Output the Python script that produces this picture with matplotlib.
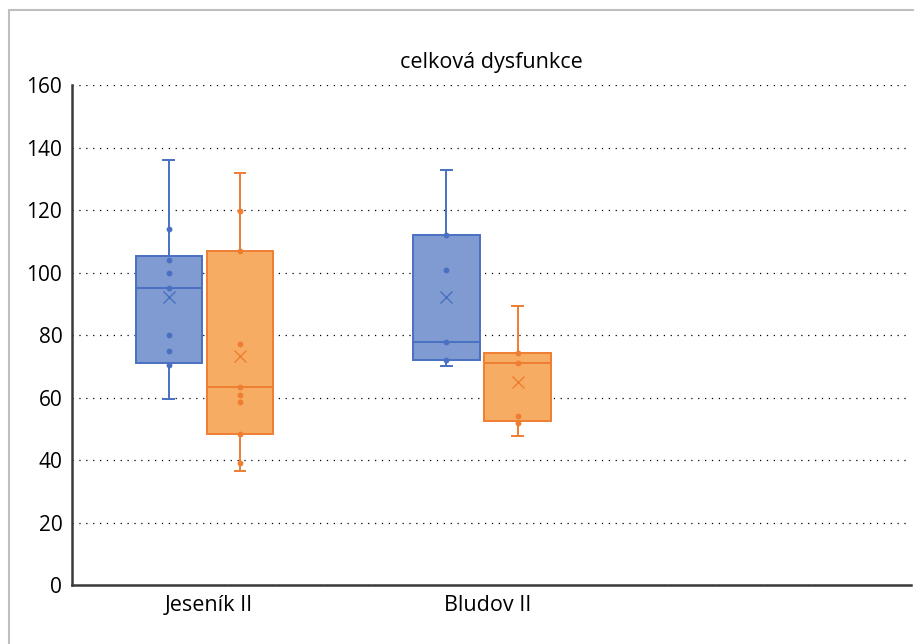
import matplotlib
matplotlib.use("Agg")
import matplotlib.pyplot as plt
from matplotlib.patches import Rectangle

plt.rcParams['font.family'] = ['Open Sans', 'DejaVu Sans']

# data
kategorie = ["Jeseník II", "Bludov II", ""]
serie = ["skupina 1", "skupina 2"]

# box statistics per series, one value per category (Jeseník, Bludov)
whis_lo = [[59.4, 70.0], [36.5, 47.6]]
q1 = [[71.1, 72.0], [48.2, 52.4]]
median = [[95.0, 77.8], [63.3, 71.1]]
q3 = [[105.3, 112.0], [107.0, 74.1]]
whis_hi = [[136.0, 132.7], [132.0, 89.2]]
mean = [[92.3, 92.3], [73.3, 64.9]]

# inner points
body_jes_1 = [114, 104, 100, 95, 80, 75, 70.5]
body_jes_2 = [119.7, 107, 77, 63.3, 60.8, 58.5, 48.2, 39]
body_blu_1 = [112, 100.7, 77.7, 72.1]
body_blu_2 = [74.1, 71, 54, 51.7]
body = [[body_jes_1, body_blu_1], [body_jes_2, body_blu_2]]

edge = ["#4A70C2", "#EE7E32"]
fill = ["#809BD1", "#F7AC64"]

fig = plt.figure(figsize=(9.14, 6.44), dpi=100)
ax = fig.add_axes([0.0788, 0.0916, 0.9179, 0.7764])

stred = [0.473, 1.466]
posun = [-0.127, 0.127]
sirka = 0.238

for s in range(len(serie)):
    stats = []
    pos = []
    for k in range(len(stred)):
        stats.append(dict(whislo=whis_lo[s][k], q1=q1[s][k], med=median[s][k],
                          q3=q3[s][k], whishi=whis_hi[s][k], mean=mean[s][k],
                          fliers=[]))
        pos.append(stred[k] + posun[s])
    ax.bxp(stats, positions=pos, widths=sirka, patch_artist=True,
           showmeans=True, showfliers=False, capwidths=0.038,
           boxprops=dict(facecolor=fill[s], edgecolor=edge[s], linewidth=1.4),
           medianprops=dict(color=edge[s], linewidth=1.4),
           whiskerprops=dict(color=edge[s], linewidth=1.4),
           capprops=dict(color=edge[s], linewidth=1.4),
           meanprops=dict(marker='x', markeredgecolor=edge[s], markersize=8,
                          markeredgewidth=1.0),
           zorder=3)
    for k in range(len(stred)):
        ax.plot([pos[k]] * len(body[s][k]), body[s][k], 'o', color=edge[s],
                markersize=3.2, zorder=4)

ax.set_xlim(0, 3)
ax.set_ylim(0, 160)
ax.set_yticks(range(0, 161, 20))
ax.set_xticks([0.49, 1.485, 2.5])
ax.set_xticklabels(kategorie)
ax.tick_params(length=0, colors='#000000')
ax.tick_params(axis='y', pad=7, labelsize=15)
ax.tick_params(axis='x', pad=7, labelsize=15.5)
ax.yaxis.grid(True, linestyle=(0, (1, 4.5)), color='#000000', linewidth=0.9)
ax.set_axisbelow(True)
for s in ['top', 'right']:
    ax.spines[s].set_visible(False)
for s in ['left', 'bottom']:
    ax.spines[s].set_color('#3A3A3A')
    ax.spines[s].set_linewidth(1.8)

ax.set_title("celková dysfunkce", fontsize=15.5, pad=12)

# chart frame, only top and left edges are visible
fig.patches.append(Rectangle((9 / 914, -0.1), 1.2, 1.1 - 10 / 644 + 0.0,
                             transform=fig.transFigure, fill=False,
                             edgecolor='#BFBFBF', linewidth=1.5))

fig.savefig("out.png", dpi=100)
